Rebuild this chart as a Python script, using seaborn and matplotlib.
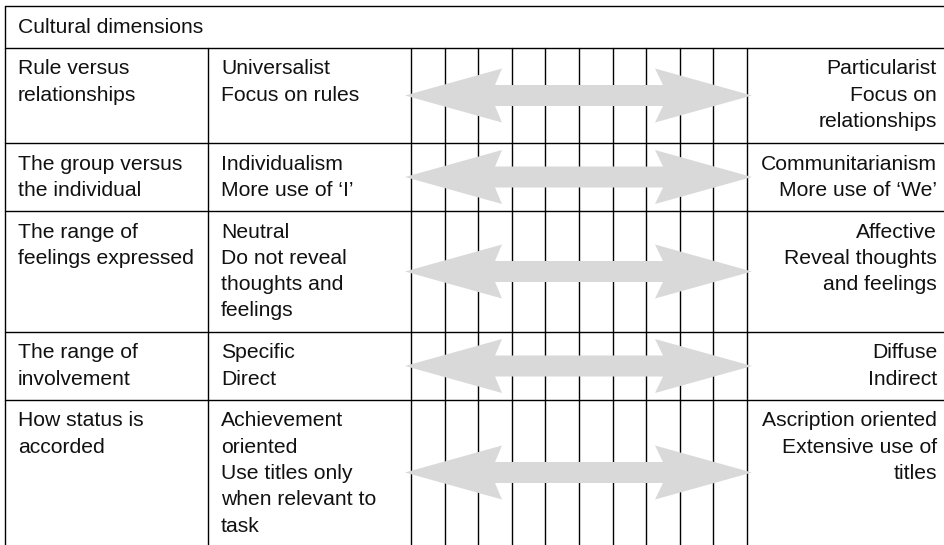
import matplotlib
matplotlib.use("Agg")
import matplotlib.pyplot as plt
from matplotlib.patches import Polygon
import seaborn as sns
import numpy as np

# table content
header = "Cultural dimensions"
dimensions = [
    ["Rule versus", "relationships"],
    ["The group versus", "the individual"],
    ["The range of", "feelings expressed"],
    ["The range of", "involvement"],
    ["How status is", "accorded"],
]
left_poles = [
    ["Universalist", "Focus on rules"],
    ["Individualism", "More use of \u2018I\u2019"],
    ["Neutral", "Do not reveal", "thoughts and", "feelings"],
    ["Specific", "Direct"],
    ["Achievement", "oriented", "Use titles only", "when relevant to", "task"],
]
right_poles = [
    ["Particularist", "Focus on", "relationships"],
    ["Communitarianism", "More use of \u2018We\u2019"],
    ["Affective", "Reveal thoughts", "and feelings"],
    ["Diffuse", "Indirect"],
    ["Ascription oriented", "Extensive use of", "titles"],
]
n_scale = 11  # vertical rating lines between the two poles

# layout (pixel coords)
W, H = 945, 545
row_edges = [6, 48, 143, 211, 332, 400, 545]
x_left, x_col2 = 5, 208
scale_x = np.linspace(411, 747, n_scale)
line_h = 26.3

sns.set_theme(style="white")
plt.rcParams["font.family"] = ["Liberation Sans", "DejaVu Sans"]

fig = plt.figure(figsize=(W / 100, H / 100), dpi=100)
ax = fig.add_axes([0, 0, 1, 1])
ax.set_xlim(0, W)
ax.set_ylim(H, 0)
ax.axis("off")

lw = 1.0
fs = 15.2
txt = "#111111"
# horizontal rules
for y in row_edges[:-1]:
    ax.plot([x_left, W], [y, y], color="black", lw=lw, zorder=1)
# vertical rules
ax.plot([x_left, x_left], [row_edges[0], H], color="black", lw=lw, zorder=1)
ax.plot([x_col2, x_col2], [row_edges[1], H], color="black", lw=lw, zorder=1)
for x in scale_x:
    ax.plot([x, x], [row_edges[1], H], color="black", lw=lw, zorder=1)

ax.text(18, 33, header, fontsize=fs, va="baseline", ha="left", color=txt)

# double arrow shape relative to row centre
tip_l, tip_r = 405, 752
shaft, head = 10.5, 27
arrow = [(tip_l, 0), (502, -head), (495, -shaft), (663, -shaft), (655, -head),
         (tip_r, 0), (655, head), (663, shaft), (495, shaft), (502, head)]

for i in range(len(dimensions)):
    top, bot = row_edges[i + 1], row_edges[i + 2]
    yc = (top + bot) / 2
    for j, t in enumerate(dimensions[i]):
        ax.text(18, top + 26.5 + j * line_h, t, fontsize=fs, va="baseline", ha="left", color=txt)
    for j, t in enumerate(left_poles[i]):
        ax.text(221, top + 26.5 + j * line_h, t, fontsize=fs, va="baseline", ha="left", color=txt)
    for j, t in enumerate(right_poles[i]):
        ax.text(937, top + 26.5 + j * line_h, t, fontsize=fs, va="baseline", ha="right", color=txt)
    pts = [(x, yc + dy) for x, dy in arrow]
    ax.add_patch(Polygon(pts, closed=True, facecolor="#d9d9d9", edgecolor="none", zorder=3))

fig.savefig("out.png", dpi=100)
